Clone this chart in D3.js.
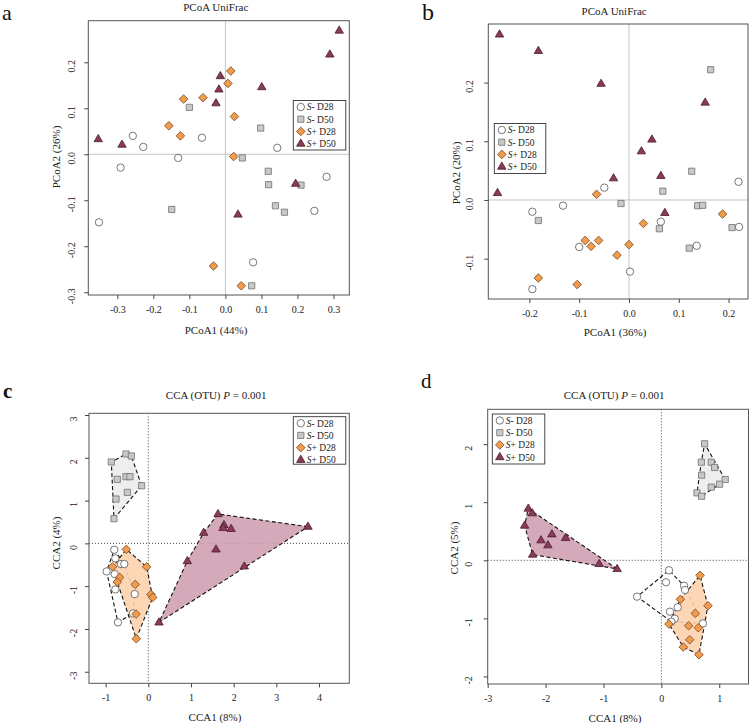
<!DOCTYPE html>
<html><head><meta charset="utf-8">
<script src="https://cdn.jsdelivr.net/npm/d3@7"></script>
<style>
html,body{margin:0;padding:0;background:#fff;}
svg{display:block;font-family:"Liberation Serif","DejaVu Serif",serif;}
</style></head>
<body><svg id="fig" width="749" height="723"></svg>
<script>
// ---------------- DATA ----------------
const groups = ["S- D28", "S- D50", "S+ D28", "S+ D50"];

// Panel a: PCoA UniFrac (PCoA1 44%, PCoA2 26%)
const a_SmD28 = [[-0.257,0.040],[-0.228,0.016],[-0.291,-0.029],[-0.351,-0.148],[-0.131,-0.008],[-0.065,0.036],[0.144,0.014],[0.281,-0.049],[0.247,-0.123],[0.077,-0.235]];
const a_SmD50 = [[-0.100,0.102],[-0.149,-0.120],[0.047,-0.008],[0.098,0.057],[0.119,-0.037],[0.120,-0.066],[0.139,-0.112],[0.164,-0.126],[0.210,-0.067],[0.073,-0.286]];
const a_SpD28 = [[0.015,0.181],[0.007,0.154],[-0.116,0.120],[-0.062,0.123],[0.025,0.082],[-0.157,0.062],[-0.125,0.040],[0.023,-0.005],[-0.033,-0.243],[0.044,-0.286]];
const a_SpD50 = [[0.316,0.269],[0.290,0.217],[-0.014,0.170],[-0.018,0.141],[-0.026,0.111],[0.101,0.146],[-0.353,0.033],[-0.287,0.021],[0.195,-0.064],[0.035,-0.131]];
const a_xTicks = [-0.3,-0.2,-0.1,0.0,0.1,0.2,0.3];
const a_yTicks = [-0.3,-0.2,-0.1,0.0,0.1,0.2];

// Panel b: PCoA UniFrac (PCoA1 36%, PCoA2 20%)
const b_SmD28 = [[-0.0495,0.021],[-0.1325,-0.0097],[-0.194,-0.020],[-0.100,-0.080],[-0.194,-0.152],[0.002,-0.122],[0.064,-0.037],[0.136,-0.078],[0.220,0.031],[0.221,-0.046]];
const b_SmD50 = [[0.164,0.222],[0.126,0.049],[0.068,0.015],[-0.016,-0.006],[-0.182,-0.035],[0.138,-0.0097],[0.148,-0.009],[0.061,-0.049],[0.121,-0.082],[0.207,-0.047]];
const b_SpD28 = [[-0.065,0.0097],[0.029,-0.040],[0.188,-0.024],[-0.088,-0.069],[-0.076,-0.079],[-0.061,-0.069],[0.000,-0.076],[-0.024,-0.094],[-0.182,-0.133],[-0.104,-0.144]];
const b_SpD50 = [[-0.260,0.282],[-0.182,0.254],[-0.056,0.198],[0.153,0.166],[0.046,0.103],[0.025,0.083],[0.064,0.041],[-0.031,0.037],[-0.264,0.012],[0.072,-0.022]];
const b_xTicks = [-0.2,-0.1,0.0,0.1,0.2];
const b_yTicks = [-0.1,0.0,0.1,0.2];

// Panel c: CCA (OTU) (CCA1 8%, CCA2 4%)
const c_SmD28 = [[-0.797,-0.148],[-0.773,-0.351],[-0.977,-0.655],[-0.789,-0.717],[-0.641,-0.483],[-0.563,-0.483],[-0.773,-1.076],[-0.320,-1.185],[-0.359,-1.637],[-0.711,-1.847]];
const c_SmD50 = [[-0.867,1.902],[-0.523,2.089],[-0.398,2.042],[-0.727,1.497],[-0.523,1.559],[-0.430,1.559],[-0.156,1.348],[-0.492,1.193],[-0.758,1.037],[-0.805,0.577]];
const c_SpD28 = [[-0.516,-0.140],[-0.039,-0.546],[-0.836,-0.546],[-0.672,-0.795],[-0.727,-0.904],[-0.305,-0.959],[0.0625,-1.193],[0.102,-1.263],[-0.289,-1.652],[-0.281,-2.229]];
const c_SpD50 = [[1.633,0.686],[1.773,0.430],[1.750,0.360],[1.940,0.340],[3.742,0.390],[1.297,0.249],[1.586,-0.140],[0.914,-0.413],[2.250,-0.538],[0.250,-1.847]];
const c_xTicks = [-1,0,1,2,3,4];
const c_yTicks = [-3,-2,-1,0,1,2,3];

// Panel d: CCA (OTU) (CCA1 8%, CCA2 5%)
const d_SmD28 = [[0.132,-0.172],[0.080,-0.379],[0.391,-0.437],[0.408,-0.511],[-0.420,-0.626],[0.282,-0.810],[0.149,-0.885],[0.230,-1.006],[0.718,-1.086],[0.172,-1.057]];
const d_SmD50 = [[0.747,2.006],[0.690,1.690],[0.862,1.690],[0.920,1.598],[0.695,1.466],[1.103,1.391],[1.006,1.310],[0.862,1.259],[0.615,1.161],[0.695,1.103]];
const d_SpD28 = [[0.667,-0.259],[0.328,-0.672],[0.805,-0.782],[0.586,-0.914],[0.132,-1.098],[0.471,-1.126],[0.638,-1.161],[0.489,-1.368],[0.379,-1.494],[0.649,-1.626]];
const d_SpD50 = [[-2.299,0.891],[-2.230,0.810],[-2.362,0.598],[-1.891,0.448],[-1.655,0.385],[-2.080,0.345],[-1.960,0.259],[-2.224,0.098],[-1.075,-0.063],[-0.764,-0.149]];
const d_xTicks = [-3,-2,-1,0,1];
const d_yTicks = [-2,-1,0,1,2];

// ---------------- STYLE ----------------
const markerStyle = [
  {shape:"circle",  fill:"#ffffff", stroke:"#555555", hull:"none"},
  {shape:"square",  fill:"#c9c9c9", stroke:"#707070", hull:"#ececec"},
  {shape:"diamond", fill:"#f19c4d", stroke:"#7a4620", hull:"#fdd2ad"},
  {shape:"triangle",fill:"#8a3a5a", stroke:"#4a1b2c", hull:"#cfa1b3"}
];

function shapePath(shape){
  switch(shape){
    case "circle": return "M3.7,0A3.7,3.7,0,1,1,-3.7,0A3.7,3.7,0,1,1,3.7,0Z";
    case "square": return "M-3.1,-3.1H3.1V3.1H-3.1Z";
    case "diamond": return "M0,-4.3L4.3,0L0,4.3L-4.3,0Z";
    case "triangle": return "M0,-4.6L4.2,2.6L-4.2,2.6Z";
  }
}

const svg = d3.select("#fig");

function fmtTick(v, dec){ return dec ? d3.format(".1f")(v).replace("−","-") : String(v); }

function drawPanel(p){
  const g = svg.append("g");
  const x = d3.scaleLinear().domain(p.xDomain).range([p.left, p.right]);
  const y = d3.scaleLinear().domain(p.yDomain).range([p.bottom, p.top]);

  const cid = "clip_" + p.id;
  g.append("clipPath").attr("id", cid).append("rect")
    .attr("x", p.left).attr("y", p.top).attr("width", p.right-p.left).attr("height", p.bottom-p.top);
  const plot = g.append("g").attr("clip-path", `url(#${cid})`);

  const zl = p.dotted ? {stroke:"#333", dash:"1,2", w:0.9} : {stroke:"#c4c4c4", dash:null, w:1};
  plot.append("line").attr("x1", x(0)).attr("x2", x(0)).attr("y1", p.top).attr("y2", p.bottom)
    .attr("stroke", zl.stroke).attr("stroke-width", zl.w).attr("stroke-dasharray", zl.dash);
  plot.append("line").attr("x1", p.left).attr("x2", p.right).attr("y1", y(0)).attr("y2", y(0))
    .attr("stroke", zl.stroke).attr("stroke-width", zl.w).attr("stroke-dasharray", zl.dash);

  if (p.hulls){
    p.series.forEach((s,i)=>{
      const pts = s.map(d=>[x(d[0]), y(d[1])]);
      const h = d3.polygonHull(pts);
      plot.append("path").attr("d", "M" + h.join("L") + "Z")
        .attr("fill", markerStyle[i].hull).attr("fill-opacity", 0.9)
        .attr("stroke", "#111").attr("stroke-width", 1.1).attr("stroke-dasharray", "4,2.5");
    });
  }

  p.series.forEach((s,i)=>{
    const st = markerStyle[i];
    plot.selectAll(null).data(s).enter().append("path")
      .attr("d", shapePath(st.shape))
      .attr("transform", d=>`translate(${x(d[0])},${y(d[1])})`)
      .attr("fill", st.fill).attr("stroke", st.stroke).attr("stroke-width", 0.8);
  });

  g.append("rect").attr("x", p.left).attr("y", p.top).attr("width", p.right-p.left).attr("height", p.bottom-p.top)
    .attr("fill","none").attr("stroke","#555").attr("stroke-width",1);

  const xa = d3.axisBottom(x).tickValues(p.xTicks).tickSize(4).tickPadding(7)
     .tickFormat(d=>fmtTick(d, p.dec));
  const xg = g.append("g").attr("transform", `translate(0,${p.bottom})`).call(xa);
  xg.select(".domain").remove();
  xg.selectAll(".tick line").attr("stroke","#444");
  xg.selectAll(".tick text").attr("font-family","Liberation Serif").attr("font-size",10).attr("fill","#222");

  const ya = d3.axisLeft(y).tickValues(p.yTicks).tickSize(4).tickFormat(d=>fmtTick(d, p.dec));
  const yg = g.append("g").attr("transform", `translate(${p.left},0)`).call(ya);
  yg.select(".domain").remove();
  yg.selectAll(".tick line").attr("stroke","#444");
  yg.selectAll(".tick text").attr("font-family","Liberation Serif").attr("font-size",10).attr("fill","#222")
    .attr("x", null).attr("dy", null).attr("text-anchor","middle")
    .attr("transform", `translate(${p.yLabX - p.left},3.5) rotate(-90)`);

  const t = g.append("text").attr("x", (p.left+p.right)/2 + (p.titleDx||0)).attr("y", p.titleY)
    .attr("text-anchor","middle").attr("font-size",11).attr("fill","#222");
  p.title.forEach(part=>{
    t.append("tspan").text(part.t).attr("font-style", part.i ? "italic" : null);
  });

  g.append("text").attr("x", p.xLabX).attr("y", p.xLabY).attr("text-anchor","middle")
    .attr("font-size",11).attr("fill","#222").text(p.xLab);
  g.append("text").attr("transform", `translate(${p.yTitleX},${p.yTitleY}) rotate(-90)`)
    .attr("text-anchor","middle").attr("font-size",11).attr("fill","#222").text(p.yLab);

  const L = p.legend;
  const lg = g.append("g");
  lg.append("rect").attr("x", L.x).attr("y", L.y).attr("width", L.w).attr("height", L.h)
    .attr("fill","#fff").attr("stroke","#333").attr("stroke-width",0.9);
  groups.forEach((name,i)=>{
    const cy = L.y + 6.5 + i*12.2;
    const st = markerStyle[i];
    lg.append("path").attr("d", shapePath(st.shape))
      .attr("transform", `translate(${L.x+7.5},${cy})`)
      .attr("fill", st.fill).attr("stroke", st.stroke).attr("stroke-width",0.8);
    const tx = lg.append("text").attr("x", L.x+13.5).attr("y", cy+3.4).attr("font-size",9.5).attr("fill","#222");
    tx.append("tspan").attr("font-style","italic").text("S");
    tx.append("tspan").text(name.slice(1));
  });

  svg.append("text").attr("x", p.letter.x).attr("y", p.letter.y)
    .attr("font-size", p.letter.size).attr("font-weight", p.letter.bold ? "bold" : null)
    .attr("fill","#111").text(p.letter.t);
}

const titlePCoA = [{t:"PCoA UniFrac"}];
const titleCCA = [{t:"CCA (OTU) "},{t:"P",i:true},{t:" = 0.001"}];

drawPanel({id:"a", left:88.3, right:349.3, top:20.7, bottom:295,
  xDomain:[-0.3806,0.344], yDomain:[-0.306,0.2904], dec:true, dotted:false, hulls:false,
  series:[a_SmD28,a_SmD50,a_SpD28,a_SpD50], xTicks:a_xTicks, yTicks:a_yTicks,
  yLabX:75, title:titlePCoA, titleY:11, titleDx:-3,
  xLab:"PCoA1 (44%)", xLabX:216, xLabY:334, yLab:"PCoA2 (26%)", yTitleX:60, yTitleY:157,
  legend:{x:293.3, y:100.5, w:52.5, h:49.5},
  letter:{t:"a", x:2, y:20, size:22}
});
drawPanel({id:"b", left:488.3, right:748, top:24, bottom:299,
  xDomain:[-0.2825,0.239], yDomain:[-0.1687,0.2998], dec:true, dotted:false, hulls:false,
  series:[b_SmD28,b_SmD50,b_SpD28,b_SpD50], xTicks:b_xTicks, yTicks:b_yTicks,
  yLabX:473, title:titlePCoA, titleY:15, titleDx:-4,
  xLab:"PCoA1 (36%)", xLabX:615, xLabY:336, yLab:"PCoA2 (20%)", yTitleX:460, yTitleY:173,
  legend:{x:494.3, y:123.5, w:51.5, h:50},
  letter:{t:"b", x:422, y:20, size:24}
});
drawPanel({id:"c", left:89, right:349.3, top:413.3, bottom:683.3,
  xDomain:[-1.39,4.71], yDomain:[-3.27,3.04], dec:false, dotted:true, hulls:true,
  series:[c_SmD28,c_SmD50,c_SpD28,c_SpD50], xTicks:c_xTicks, yTicks:c_yTicks,
  yLabX:77, title:titleCCA, titleY:399, titleDx:-3,
  xLab:"CCA1 (8%)", xLabX:215, xLabY:721, yLab:"CCA2 (4%)", yTitleX:60, yTitleY:543,
  legend:{x:293.3, y:416.7, w:52.5, h:47.5},
  letter:{t:"c", x:3, y:398, size:21, bold:true}
});
drawPanel({id:"d", left:487.7, right:748.5, top:409.3, bottom:684,
  xDomain:[-3.0,1.505], yDomain:[-2.13,2.60], dec:false, dotted:true, hulls:true,
  series:[d_SmD28,d_SmD50,d_SpD28,d_SpD50], xTicks:d_xTicks, yTicks:d_yTicks,
  yLabX:472, title:titleCCA, titleY:399, titleDx:-4,
  xLab:"CCA1 (8%)", xLabX:615, xLabY:722, yLab:"CCA2 (5%)", yTitleX:458, yTitleY:548,
  legend:{x:492.3, y:414, w:52.5, h:50},
  letter:{t:"d", x:421, y:388, size:21}
});
</script></body></html>
